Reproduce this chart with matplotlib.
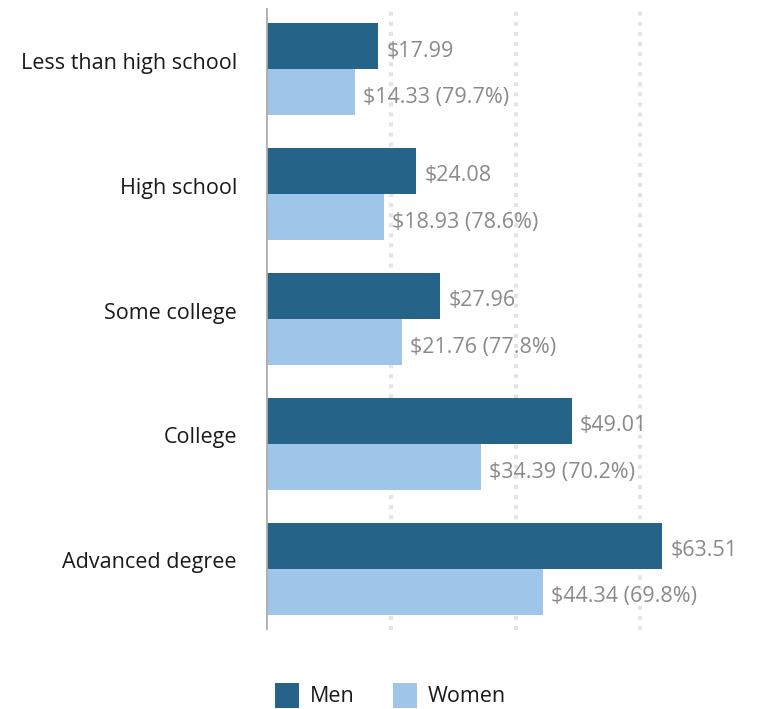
import numpy as np
import matplotlib.pyplot as plt
from matplotlib.patches import Rectangle

# salário médio por hora, por escolaridade
categorias = ['Less than high school', 'High school', 'Some college', 'College', 'Advanced degree']
homens = [17.99, 24.08, 27.96, 49.01, 63.51]
mulheres = [14.33, 18.93, 21.76, 34.39, 44.34]
razao = [79.7, 78.6, 77.8, 70.2, 69.8]
series = ['Men', 'Women']

cor_homens = '#256388'
cor_mulheres = '#9fc5e8'
cor_rotulo = '#8a8a8a'
tamanho = 15.5

plt.rcParams['font.family'] = ['Open Sans', 'DejaVu Sans']

W, H = 762, 709
fig = plt.figure(figsize=(W / 100, H / 100), dpi=100)
ax = fig.add_axes([266 / W, 1 - 630 / H, 1 - 266 / W, 622 / H])

y = np.arange(len(categorias))
altura = 0.37

ax.barh(y - altura / 2, homens, height=altura, color=cor_homens, zorder=3)
ax.barh(y + altura / 2, mulheres, height=altura, color=cor_mulheres, zorder=3)

# rótulos de valor ao lado das barras
for i in range(len(categorias)):
    ax.annotate(f'${homens[i]:.2f}', (homens[i], y[i] - altura / 2),
                xytext=(8, -5), textcoords='offset pixels', va='center', ha='left',
                fontsize=tamanho, color=cor_rotulo)
    ax.annotate(f'${mulheres[i]:.2f} ({razao[i]:.1f}%)', (mulheres[i], y[i] + altura / 2),
                xytext=(8, -5), textcoords='offset pixels', va='center', ha='left',
                fontsize=tamanho, color=cor_rotulo)
    # nome da categoria à esquerda do eixo
    ax.annotate(categorias[i], (0, y[i]), xytext=(-29, 6), textcoords='offset pixels',
                va='center', ha='right', fontsize=tamanho, color='#1a1a1a')

ax.set_xlim(0, 79.5)
ax.set_ylim(4.49, -0.49)

# grade pontilhada em 20, 40, 60
for g in [20, 40, 60]:
    ax.axvline(g, color='#e4e4e4', linewidth=2.9, linestyle=(0, (1, 1.5)), zorder=1)
ax.axvline(0, color='#b0b0b0', linewidth=2, zorder=4)

ax.set_xticks([])
ax.set_yticks([])
for lado in ['top', 'right', 'bottom', 'left']:
    ax.spines[lado].set_visible(False)

# legenda desenhada à mão
for x0, cor, nome in [(275, cor_homens, series[0]), (393, cor_mulheres, series[1])]:
    fig.patches.append(Rectangle((x0 / W, 1 - 708 / H), 24 / W, 25 / H,
                                 transform=fig.transFigure, facecolor=cor))
    fig.text((x0 + 35) / W, 1 - 697 / H, nome, va='center', ha='left',
             fontsize=tamanho, color='#1a1a1a')

fig.savefig('out.png', dpi=100)
